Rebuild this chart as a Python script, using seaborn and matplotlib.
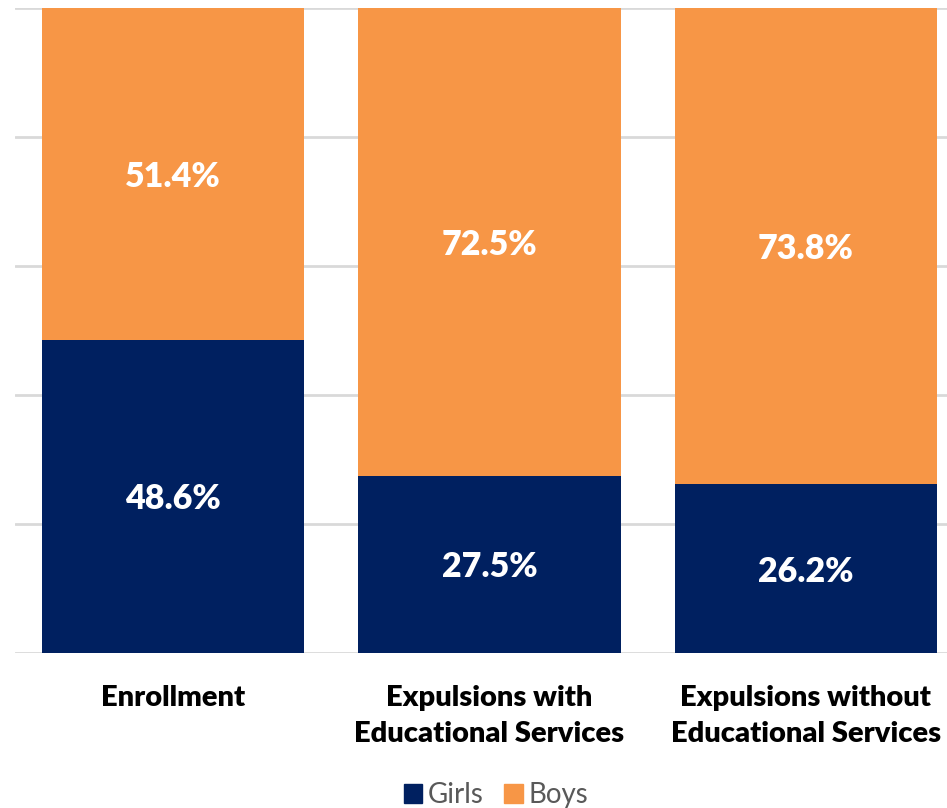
import matplotlib
matplotlib.use("Agg")
import matplotlib.pyplot as plt
import seaborn as sns
import pandas as pd
from matplotlib.patches import Patch

categories = ["Enrollment", "Expulsions with\nEducational Services", "Expulsions without\nEducational Services"]
girls = [48.6, 27.5, 26.2]
boys = [51.4, 72.5, 73.8]

NAVY = "#002060"
ORANGE = "#F79646"

sns.set_theme(style="white")
plt.rcParams["font.family"] = ["Lato", "DejaVu Sans"]

df = pd.DataFrame({"category": categories, "girls": girls, "boys": boys})
df["total"] = df["girls"] + df["boys"]

fig = plt.figure(figsize=(9.47, 8.08), dpi=100)
W, H = 947, 808
ax = fig.add_axes([15 / W, 1 - 653 / H, (964 - 15) / W, (653 - 8) / H])

# Stacked 100% bars: full-height boys bar underneath, girls bar on top
sns.barplot(data=df, x="category", y="total", color=ORANGE, width=0.83,
            saturation=1, linewidth=0, ax=ax, zorder=2)
sns.barplot(data=df, x="category", y="girls", color=NAVY, width=0.83,
            saturation=1, linewidth=0, ax=ax, zorder=3)

ax.set_ylim(0, 100)
ax.set_yticks([0, 20, 40, 60, 80, 100])
ax.yaxis.grid(True, color="#d9d9d9", linewidth=2)
ax.set_axisbelow(True)
ax.set_yticklabels([])
ax.tick_params(left=False, bottom=False)
for s in ax.spines.values():
    s.set_visible(False)
ax.set_xlabel("")
ax.set_ylabel("")
ax.set_xticks(range(len(categories)))
ax.set_xticklabels(categories, fontsize=21, fontweight="heavy", color="black",
                   va="top", linespacing=1.5)
ax.tick_params(axis="x", pad=17)

# Percentage labels centred in each segment
for i, (g, b) in enumerate(zip(girls, boys)):
    for y, v in ((g / 2, g), (g + b / 2, b)):
        ax.annotate(f"{v:.1f}%", xy=(i, y), xytext=(0, -2.2),
                    textcoords="offset points", ha="center", va="center",
                    color="white", fontsize=24.5, fontweight="heavy", zorder=5)

handles = [Patch(color=NAVY, label="Girls"), Patch(color=ORANGE, label="Boys")]
fig.legend(handles=handles, loc="center", bbox_to_anchor=(496 / W, 1 - 795 / H),
           ncol=2, frameon=False, fontsize=20, labelcolor="#595959",
           handlelength=0.65, handleheight=0.65, handletextpad=0.2,
           columnspacing=0.75)

fig.savefig("out.png", dpi=100)
